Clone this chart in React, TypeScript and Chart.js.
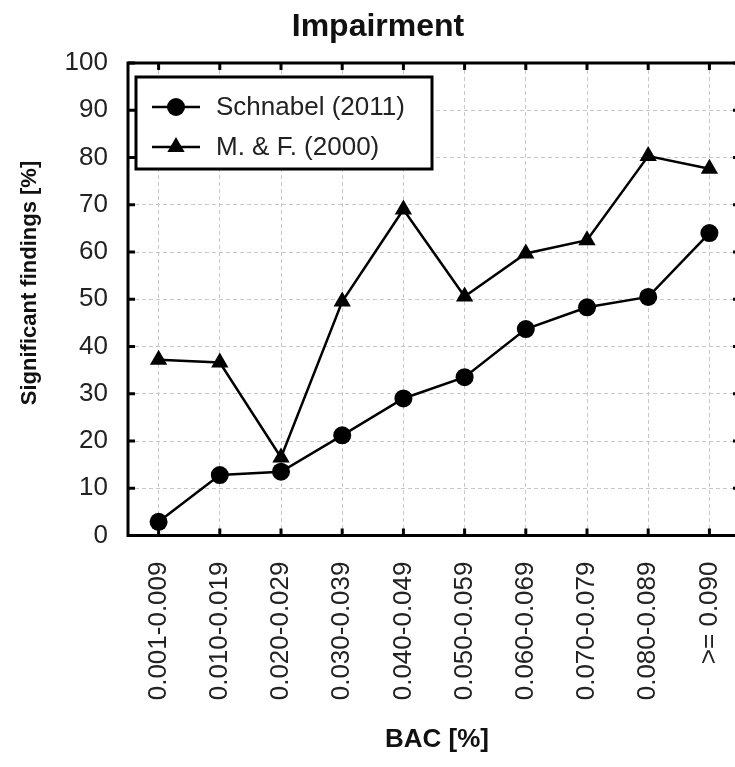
import React, { useEffect, useRef } from "react";
import { Chart, registerables } from "chart.js";

Chart.register(...registerables);

const categories = [
  "0.001-0.009",
  "0.010-0.019",
  "0.020-0.029",
  "0.030-0.039",
  "0.040-0.049",
  "0.050-0.059",
  "0.060-0.069",
  "0.070-0.079",
  "0.080-0.089",
  ">= 0.090",
];
const schnabel = [2.9, 12.8, 13.5, 21.2, 29.0, 33.5, 43.7, 48.3, 50.5, 64.0];
const mandf = [37.2, 36.6, 16.5, 49.5, 69.0, 50.6, 59.7, 62.5, 80.3, 77.6];
const seriesNames = ["Schnabel (2011)", "M. & F. (2000)"];
const yMin = 0;
const yMax = 100;
const yStep = 10;
const chartTitle = "Impairment";
const xTitle = "BAC [%]";
const yTitle = "Significant findings [%]";

const FONT = "'Liberation Sans', Arial, sans-serif";
const CW = 780;
const CH = 767;

function drawTriangle(ctx: CanvasRenderingContext2D, x: number, y: number, r: number) {
  let rad = 0;
  ctx.beginPath();
  ctx.moveTo(x + Math.sin(rad) * r, y - Math.cos(rad) * r);
  rad += (2 * Math.PI) / 3;
  ctx.lineTo(x + Math.sin(rad) * r, y - Math.cos(rad) * r);
  rad += (2 * Math.PI) / 3;
  ctx.lineTo(x + Math.sin(rad) * r, y - Math.cos(rad) * r);
  ctx.closePath();
  ctx.fill();
}

const decor = {
  id: "decor",
  afterDraw(chart: any) {
    const ctx: CanvasRenderingContext2D = chart.ctx;
    const { left, top, right, bottom } = chart.chartArea;
    const xs = chart.scales.x;
    const ys = chart.scales.y;
    ctx.save();
    // frame
    ctx.strokeStyle = "#000";
    ctx.lineWidth = 3;
    ctx.strokeRect(left, top, right - left, bottom - top);
    // inward ticks
    ctx.beginPath();
    categories.forEach((_, i) => {
      const x = xs.getPixelForValue(i);
      ctx.moveTo(x, bottom);
      ctx.lineTo(x, bottom - 7);
      ctx.moveTo(x, top);
      ctx.lineTo(x, top + 7);
    });
    for (let v = yMin; v <= yMax; v += yStep) {
      const y = ys.getPixelForValue(v);
      ctx.moveTo(left, y);
      ctx.lineTo(left + 7, y);
      ctx.moveTo(right, y);
      ctx.lineTo(right - 7, y);
    }
    ctx.stroke();

    // legend
    const lx = 136, ly = 77, lw = 296, lh = 92;
    ctx.fillStyle = "#fff";
    ctx.fillRect(lx, ly, lw, lh);
    ctx.lineWidth = 3;
    ctx.strokeStyle = "#000";
    ctx.strokeRect(lx, ly, lw, lh);
    const rows = [107, 147];
    rows.forEach((ry, i) => {
      ctx.lineWidth = 2.5;
      ctx.beginPath();
      ctx.moveTo(152, ry);
      ctx.lineTo(200, ry);
      ctx.stroke();
      ctx.fillStyle = "#000";
      if (i === 0) {
        ctx.beginPath();
        ctx.arc(176, ry, 9, 0, Math.PI * 2);
        ctx.fill();
      } else {
        drawTriangle(ctx, 176, ry, 10);
      }
      ctx.fillStyle = "#222";
      ctx.font = `26px ${FONT}`;
      ctx.textAlign = "left";
      ctx.textBaseline = "middle";
      ctx.fillText(seriesNames[i], 216, ry + 1);
    });

    // titles
    ctx.fillStyle = "#111";
    ctx.textAlign = "center";
    ctx.textBaseline = "middle";
    ctx.font = `bold 32px ${FONT}`;
    ctx.fillText(chartTitle, 378, 27);
    ctx.font = `bold 26px ${FONT}`;
    ctx.fillText(xTitle, 437, 740);
    ctx.save();
    ctx.translate(30, 283);
    ctx.rotate(-Math.PI / 2);
    ctx.font = `bold 22px ${FONT}`;
    ctx.fillText(yTitle, 0, 0);
    ctx.restore();
    ctx.restore();
  },
};

export default function App() {
  const ref = useRef<HTMLCanvasElement | null>(null);
  useEffect(() => {
    if (!ref.current) return;
    const chart = new Chart(ref.current, {
      type: "line",
      data: {
        labels: categories,
        datasets: [
          {
            label: seriesNames[0],
            data: schnabel,
            borderColor: "#000",
            backgroundColor: "#000",
            borderWidth: 2.5,
            pointStyle: "circle",
            pointRadius: 9,
            pointBackgroundColor: "#000",
            pointBorderWidth: 0,
            tension: 0,
          },
          {
            label: seriesNames[1],
            data: mandf,
            borderColor: "#000",
            backgroundColor: "#000",
            borderWidth: 2.5,
            pointStyle: "triangle",
            pointRadius: 10,
            pointBackgroundColor: "#000",
            pointBorderWidth: 0,
            tension: 0,
          },
        ],
      },
      options: {
        responsive: false,
        animation: false,
        devicePixelRatio: 1,
        layout: { padding: { top: 63, right: CW - 740, left: 0, bottom: 0 } },
        plugins: { legend: { display: false }, tooltip: { enabled: false }, title: { display: false } },
        scales: {
          x: {
            type: "category",
            offset: true,
            afterFit: (s: any) => {
              s.height = CH - 535.5;
            },
            grid: { color: "#c8c8c8", lineWidth: 1, drawTicks: false, offset: false },
            border: { display: false, dash: [4, 3] },
            ticks: {
              maxRotation: 90,
              minRotation: 90,
              autoSkip: false,
              padding: 26,
              color: "#222",
              font: { family: FONT, size: 26 },
            },
          },
          y: {
            min: yMin,
            max: yMax,
            afterFit: (s: any) => {
              s.width = 128;
            },
            grid: { color: "#c8c8c8", lineWidth: 1, drawTicks: false },
            border: { display: false, dash: [4, 3] },
            ticks: {
              stepSize: yStep,
              padding: 20,
              color: "#222",
              font: { family: FONT, size: 26 },
            },
          },
        },
      },
      plugins: [decor],
    });
    return () => chart.destroy();
  }, []);
  return (
    <div
      style={{
        position: "absolute",
        left: 0,
        top: 0,
        width: 735,
        height: 767,
        overflow: "hidden",
        background: "#fff",
      }}
    >
      <canvas
        ref={ref}
        width={CW}
        height={CH}
        style={{ width: CW, height: CH, display: "block" }}
      />
    </div>
  );
}
